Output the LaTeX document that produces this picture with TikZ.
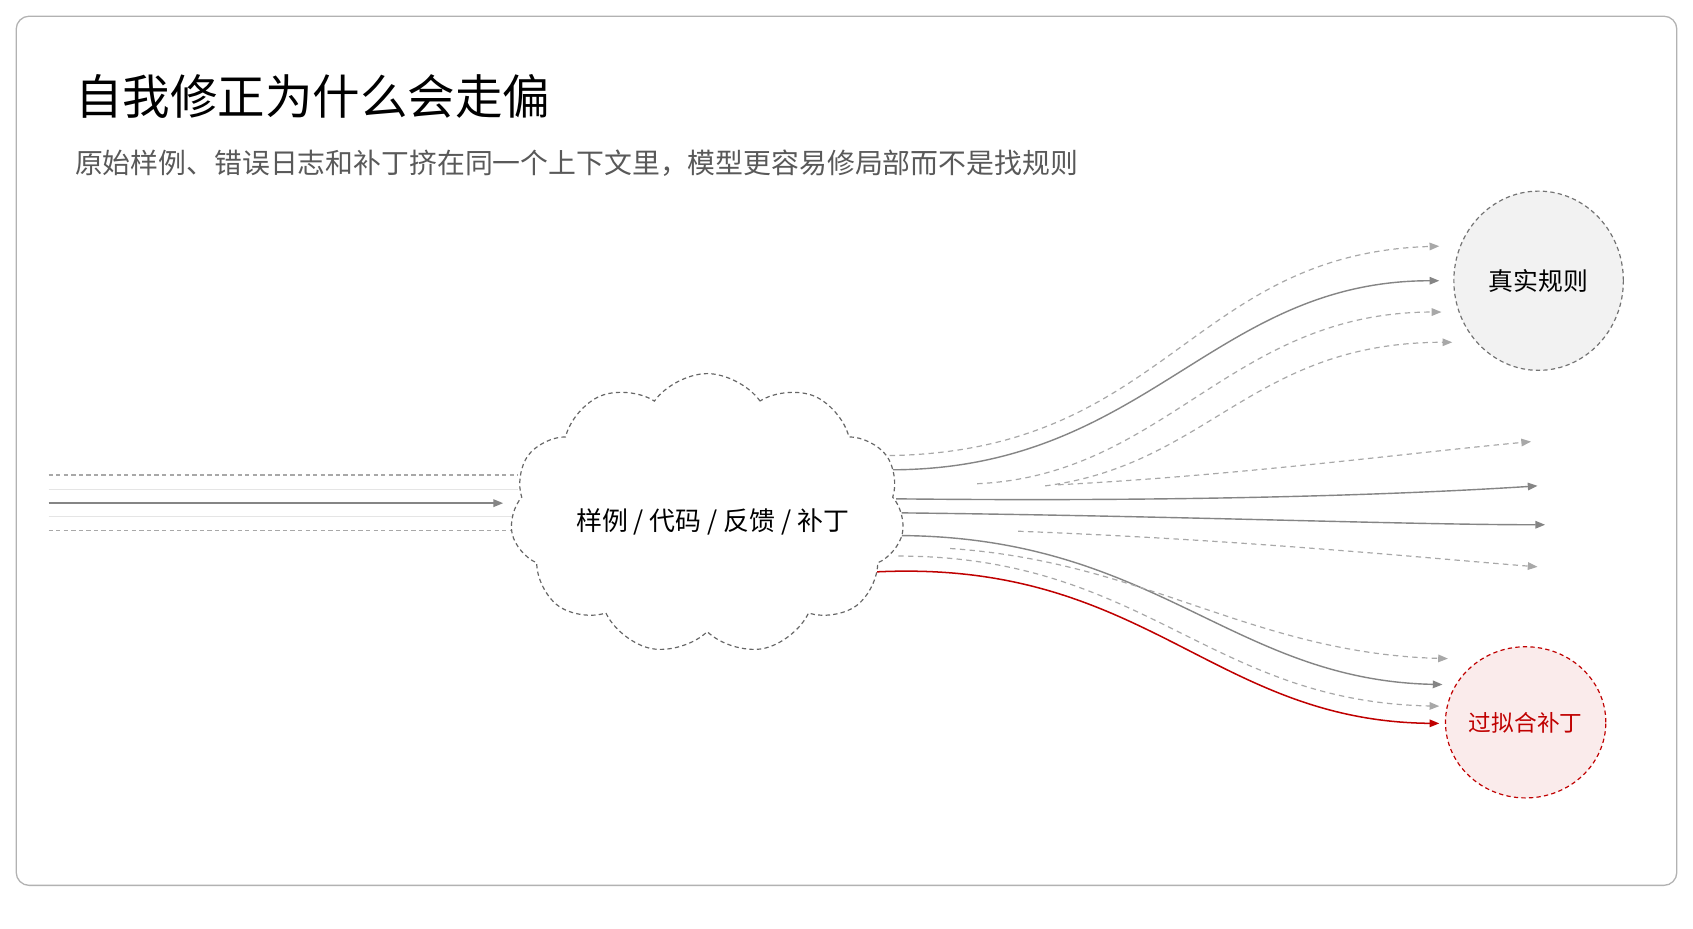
\documentclass[tikz,border=0pt]{standalone}
\usepackage{fontspec}
\setmainfont{Noto Sans CJK SC}
\usetikzlibrary{shapes.symbols,shapes.geometric,arrows.meta}
\definecolor{ln}{HTML}{858585}
\definecolor{lnl}{HTML}{A8A8A8}
\definecolor{rd}{HTML}{C00000}
\begin{document}
\begin{tikzpicture}[x=1pt,y=-1pt,
  solid arr/.style={draw=ln,line width=1.3pt,-{Triangle[length=9pt,width=7pt]}},
  dash arr/.style={draw=lnl,line width=1.1pt,dashed,dash pattern=on 5pt off 4pt,-{Triangle[length=9pt,width=7pt]}},
  red arr/.style={draw=rd,line width=1.4pt,-{Triangle[length=9pt,width=7pt]}},
  guide/.style={draw=lnl,line width=1.1pt,dash pattern=on 4pt off 3pt},
  lightline/.style={draw=black!10,line width=1.1pt}]
\useasboundingbox (0,0) rectangle (1568,860);
\draw[black!30,line width=1.2pt,rounded corners=12pt,fill=white] (15,15) rectangle (1553,820);
\node[anchor=base west,font=\fontsize{44}{48}\selectfont] (title) at (66,106) {自我修正为什么会走偏};
\node[anchor=base west,text=black!65,font=\fontsize{25.8}{30}\selectfont] (sub) at (66,161) {原始样例、错误日志和补丁挤在同一个上下文里，模型更容易修局部而不是找规则};
% left lines
\coordinate (l1) at (45,440); \coordinate (l1e) at (480,440);
\coordinate (l2) at (45,453); \coordinate (l2e) at (480,453);
\coordinate (l3) at (45,466); \coordinate (l3e) at (466,466);
\coordinate (l4) at (45,478); \coordinate (l4e) at (480,478);
\coordinate (l5) at (45,491); \coordinate (l5e) at (480,491);
\draw[guide] (l1) -- (l1e);
\draw[guide] (l5) -- (l5e);
\draw[lightline] (l2) -- (l2e);
\draw[lightline] (l4) -- (l4e);
\draw[solid arr] (l3) -- (l3e);
% right fan
\coordinate (a0) at (815,422); \coordinate (a1) at (1333,228);
\coordinate (b0) at (815,435); \coordinate (b1) at (1333,260);
\coordinate (c0) at (905,448); \coordinate (c1) at (1335,289);
\coordinate (d0) at (968,450); \coordinate (d1) at (1345,317);
\coordinate (e0) at (980,449); \coordinate (e1) at (1418,409);
\coordinate (f0) at (830,462); \coordinate (f1) at (1424,450);
\coordinate (g0) at (835,475); \coordinate (g1) at (1431,486);
\coordinate (h0) at (943,492); \coordinate (h1) at (1424,525);
\coordinate (i0) at (830,496); \coordinate (i1) at (1336,634);
\coordinate (j0) at (880,508); \coordinate (j1) at (1341,610);
\coordinate (k0) at (832,515); \coordinate (k1) at (1333,654);
\coordinate (r0) at (805,530); \coordinate (r1) at (1333,670);
\draw[dash arr] (a0) .. controls (1080,422) and (1100,235) .. (a1);
\draw[solid arr] (b0) .. controls (1060,440) and (1120,260) .. (b1);
\draw[dash arr] (c0) .. controls (1080,440) and (1140,289) .. (c1);
\draw[dash arr] (d0) .. controls (1120,430) and (1160,317) .. (d1);
\draw[dash arr] (e0) .. controls (1150,440) and (1300,420) .. (e1);
\draw[solid arr] (f0) .. controls (1100,465) and (1300,458) .. (f1);
\draw[solid arr] (g0) .. controls (1100,478) and (1300,486) .. (g1);
\draw[dash arr] (h0) .. controls (1150,500) and (1300,515) .. (h1);
\draw[solid arr] (i0) .. controls (1070,496) and (1140,630) .. (i1);
\draw[dash arr] (j0) .. controls (1060,520) and (1160,605) .. (j1);
\draw[dash arr] (k0) .. controls (1060,515) and (1120,650) .. (k1);
\draw[red arr] (r0) .. controls (1060,515) and (1120,668) .. (r1);
% cloud
\node[cloud,cloud puffs=11,cloud puff arc=110,aspect=1.4,minimum width=365pt,minimum height=260pt,
  draw=black!60,dashed,dash pattern=on 4pt off 3pt,line width=1.1pt,fill=white,inner sep=0pt,
  font=\fontsize{24}{27}\selectfont] (cloud) at (655,476) {};
\node[font=\fontsize{24}{27}\selectfont] (ctext) at (660,483) {样例 / 代码 / 反馈 / 补丁};
% targets
\node[ellipse,draw=black!55,dashed,dash pattern=on 4pt off 3pt,line width=1.1pt,fill=black!5,inner sep=0pt,
  minimum width=157pt,minimum height=166pt,font=\fontsize{23}{26}\selectfont] (rule) at (1425,260) {真实规则};
\node[ellipse,draw=rd,dashed,dash pattern=on 4pt off 3pt,line width=1.1pt,fill=rd!8,text=rd,inner sep=0pt,
  minimum width=137pt,minimum height=140pt,font=\fontsize{21}{24}\selectfont] (patch) at (1413,669) {过拟合补丁};
\end{tikzpicture}
\end{document}
